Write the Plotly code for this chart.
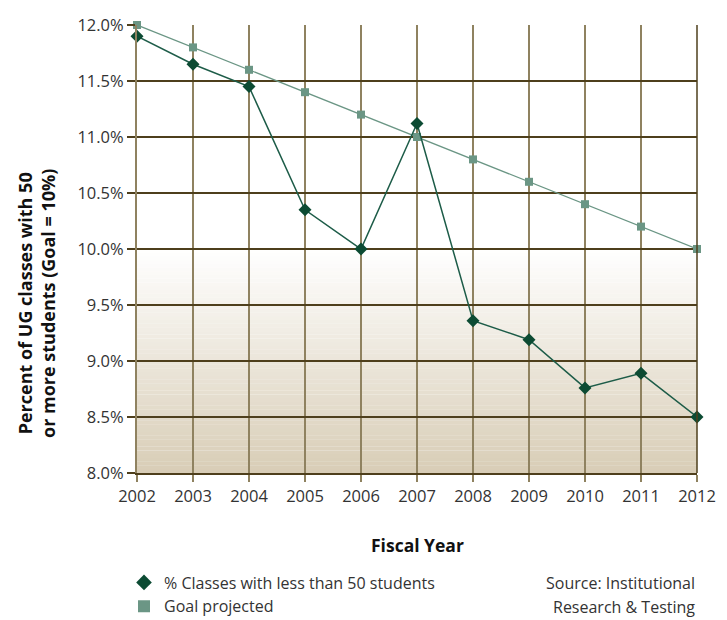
import plotly.graph_objects as go

years = list(range(2002, 2013))
pct_small = [11.9, 11.65, 11.45, 10.35, 10.0, 11.12, 9.36, 9.19, 8.76, 8.89, 8.5]
goal = [12.0, 11.8, 11.6, 11.4, 11.2, 11.0, 10.8, 10.6, 10.4, 10.2, 10.0]
y_ticks = [8.0, 8.5, 9.0, 9.5, 10.0, 10.5, 11.0, 11.5, 12.0]
y_ticklabels = [f"{v:.1f}%" for v in y_ticks]
name_actual = "% Classes with less than 50 students"
name_goal = "Goal projected"
x_title = "Fiscal Year"
y_title = "Percent of UG classes with 50<br>or more students (Goal = 10%)"
source_lines = ["Source: Institutional", "Research & Testing"]

FONT = "Open Sans"
TXT = "#333333"
C_ACT = "#0c4b33"
C_ACT_LINE = "#1d5c48"
C_GOAL = "#6b9685"
GRID_H = "#4e3f1c"
GRID_V = "#8f8260"

# plot area in pixels (for placing texts outside it)
PL, PR, PT, PB = 137, 697, 25, 473
def px_x(x):
    return (x - PL) / (PR - PL)
def px_y(y):
    return (PB - y) / (PB - PT)

fig = go.Figure()

# gradient background (8% -> 10%) built from thin bands below gridlines
n = 60
lo, hi = 8.0, 10.0
top_rgb = (255, 255, 255)
bot_rgb = (216, 205, 182)
shapes = []
for i in range(n):
    t0 = lo + (hi - lo) * i / n
    t1 = lo + (hi - lo) * (i + 1) / n
    f = (i + 0.5) / n
    c = tuple(round(b + (t - b) * f) for b, t in zip(bot_rgb, top_rgb))
    shapes.append(dict(type="rect", xref="x", yref="y", x0=years[0], x1=years[-1],
                       y0=t0, y1=t1 + 0.002, fillcolor=f"rgb{c}", line=dict(width=0),
                       layer="below"))
# right border
shapes.append(dict(type="line", xref="paper", yref="paper", x0=1, x1=1, y0=0, y1=1,
                   line=dict(color=GRID_H, width=1.5), layer="above"))

fig.add_trace(go.Scatter(x=years, y=goal, mode="lines+markers", name=name_goal,
                         line=dict(color=C_GOAL, width=1.3),
                         marker=dict(symbol="square", size=8, color=C_GOAL),
                         cliponaxis=False, showlegend=False))
fig.add_trace(go.Scatter(x=years, y=pct_small, mode="lines+markers", name=name_actual,
                         line=dict(color=C_ACT_LINE, width=1.5),
                         marker=dict(symbol="diamond", size=10, color=C_ACT),
                         cliponaxis=False, showlegend=False))
# legend-only entries (markers only, as in reference)
fig.add_trace(go.Scatter(x=[None], y=[None], mode="markers", name=name_actual,
                         marker=dict(symbol="diamond", size=9, color=C_ACT)))
fig.add_trace(go.Scatter(x=[None], y=[None], mode="markers", name=name_goal,
                         marker=dict(symbol="square", size=7, color=C_GOAL)))

annotations = [
    dict(text=source_lines[0], xref="paper", yref="paper", x=1.0, y=px_y(583),
         xanchor="right", yanchor="middle", showarrow=False,
         font=dict(family=FONT, size=16, color=TXT)),
    dict(text=source_lines[1], xref="paper", yref="paper", x=1.0, y=px_y(607),
         xanchor="right", yanchor="middle", showarrow=False,
         font=dict(family=FONT, size=16, color=TXT)),
    dict(text=f"<b>{x_title}</b>", xref="paper", yref="paper", x=0.5, y=px_y(545),
         xanchor="center", yanchor="middle", showarrow=False,
         font=dict(family=FONT, size=17.5, color="#111111")),
    dict(text=f"<b>{y_title}</b>", xref="paper", yref="paper", x=px_x(36),
         y=px_y(304), xanchor="center", yanchor="middle", textangle=-90,
         showarrow=False, font=dict(family=FONT, size=18, color="#111111")),
]

fig.update_layout(
    width=727, height=620,
    margin=dict(l=PL, r=727 - PR, t=PT, b=620 - PB, autoexpand=False),
    plot_bgcolor="white", paper_bgcolor="white",
    font=dict(family=FONT, size=16, color=TXT),
    shapes=shapes,
    showlegend=True,
    legend=dict(x=px_x(124), y=px_y(565.5), xanchor="left", yanchor="top",
                font=dict(family=FONT, size=16, color=TXT),
                bgcolor="rgba(0,0,0,0)", tracegroupgap=0, itemsizing="constant"),
    annotations=annotations,
)

fig.update_xaxes(
    range=[years[0], years[-1]], tickmode="array", tickvals=years,
    ticktext=[str(y) for y in years],
    showgrid=True, gridcolor=GRID_V, gridwidth=1.5,
    showline=True, linecolor=GRID_H, linewidth=1.5,
    ticks="outside", ticklen=7, tickcolor=GRID_V, tickwidth=1.5,
    tickfont=dict(size=16.5, color=TXT), automargin=False,
    zeroline=False,
)
fig.update_yaxes(
    range=[8.0, 12.0], tickmode="array", tickvals=y_ticks, ticktext=y_ticklabels,
    showgrid=True, gridcolor=GRID_H, gridwidth=1.5,
    showline=True, linecolor=GRID_V, linewidth=2,
    ticks="outside", ticklen=8, tickcolor=GRID_H, tickwidth=1.5,
    tickfont=dict(size=16.5, color=TXT), automargin=False,
    zeroline=False,
)

fig.write_html("out.html")
